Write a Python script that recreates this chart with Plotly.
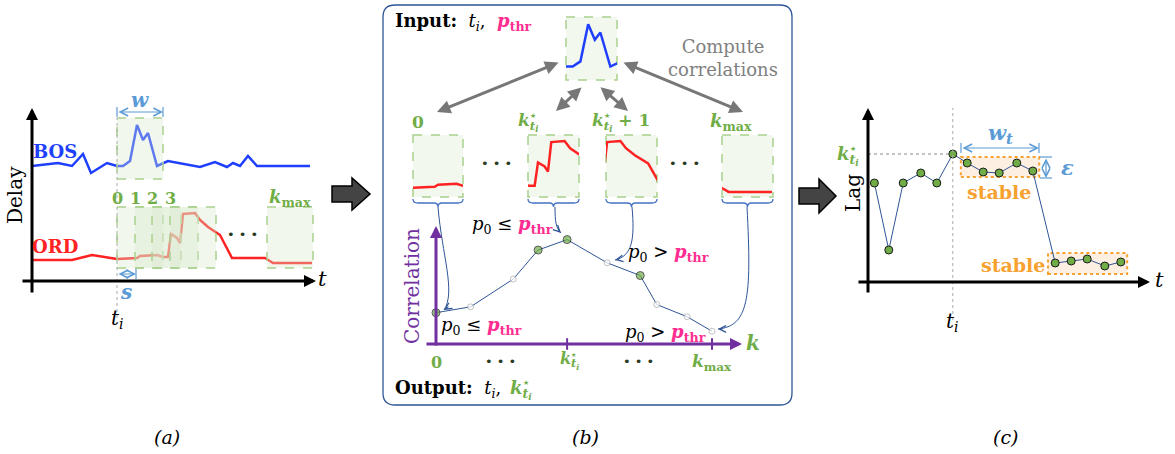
import plotly.graph_objects as go

W, H = 1175, 454
FONT = "DejaVu Serif"

# ---------------- data ----------------
# (a) delay series
bos_t = [0, 2.6, 4.0, 5.1, 5.9, 7.5, 8.5, 9.1, 9.8, 10.5, 11.1, 11.6, 12.5, 13.1, 13.6,
         16.8, 18.3, 19.5, 20.1, 20.8, 21.6, 22.5, 27.8]
bos_delay = [11.5, 11.8, 11.5, 12.7, 10.8, 11.8, 11.5, 11.5, 12.0, 15.6, 14.1, 14.8, 11.5, 11.8, 12.0,
             11.4, 11.9, 11.4, 11.8, 11.5, 12.5, 11.5, 11.5]
ord_t = [0, 4.0, 6.0, 8.5, 10.5, 10.8, 12.5, 13.1, 13.6, 13.9, 14.5, 14.8, 15.1, 16.3, 16.8,
         17.6, 18.8, 20.0, 23.3, 24.1, 28.0]
ord_delay = [2.1, 2.1, 2.6, 2.2, 2.3, 2.5, 2.6, 2.4, 2.4, 4.7, 4.3, 3.8, 6.7, 6.8, 6.1,
             5.4, 4.6, 2.3, 2.3, 1.8, 1.8]
t_i_a = 8.5
w_len = 4.6
window_starts = [8.5, 10.3, 12.0, 13.8]
window_labels = ["0", "1", "2", "3"]
kmax_start = 23.5
bos_win_y = [10.2, 16.3]
ord_win_y = [1.3, 7.4]

# (b) correlation vs lag
corr_k = [0, 1.25, 2.8, 3.7, 4.75, 6.2, 7.4, 8.0, 9.1, 10.0]
corr_val = [0.27, 0.32, 0.56, 0.81, 0.90, 0.70, 0.59, 0.34, 0.235, 0.11]
corr_sig = [True, False, False, True, True, False, True, False, False, False]
k_star = 4.75
k_max = 10.0
mini_windows = [8.5, 13.0, 15.0, 23.5]       # ORD window starts shown in (b): 0, k*, k*+1, kmax

# (c) lag over time
lag_t = [0.4, 1.3, 2.2, 3.3, 4.3, 5.3, 6.2, 7.2, 8.2, 9.3, 10.3, 11.7, 12.7, 13.7, 14.8, 15.8]
lag_val = [9.9, 3.2, 9.9, 10.9, 9.9, 12.8, 11.9, 11.0, 10.9, 11.9, 11.1, 1.9, 2.1, 2.3, 1.6, 2.0]
t_i_c = 5.3
stable_boxes = [(5.8, 10.7, 10.5, 12.5), (11.25, 16.2, 0.8, 2.9)]

# ---------------- colours ----------------
BLUE = "#1F3FFF"
RED = "#FF2222"
GREEN = "#70AD47"
LBLUE = "#5B9BD5"
PINK = "#FF2D8F"
PURPLE = "#7030A0"
ORANGE = "#F7A130"
GBORDER = "#A9D18E"
GFILL = "rgba(226,239,218,0.45)"
NAVY = "#2F5597"

fig = go.Figure()


def ov(ox, oy, sx, sy):
    return [(0 - ox) / sx, (W - ox) / sx], [(oy - H) / sy, oy / sy]


def dom(x0, x1, y0, y1):
    return [x0 / W, x1 / W], [1 - y1 / H, 1 - y0 / H]


axes = {}


def add_axes(n, xr, yr, xd=(0, 1), yd=(0, 1)):
    xs = "xaxis" if n == 1 else f"xaxis{n}"
    ys = "yaxis" if n == 1 else f"yaxis{n}"
    tag = "" if n == 1 else str(n)
    axes[xs] = dict(visible=False, range=xr, domain=list(xd), anchor="y" + tag, fixedrange=True)
    axes[ys] = dict(visible=False, range=yr, domain=list(yd), anchor="x" + tag, fixedrange=True)


add_axes(1, [0, W], [H, 0])                       # canvas (pixels)
xr, yr = ov(32, 281, 10, 10); add_axes(2, xr, yr)  # panel a
xr, yr = ov(436, 344, 27.6, 116); add_axes(3, xr, yr)  # panel b
xr, yr = ov(868, 282, 16, 10); add_axes(4, xr, yr)  # panel c
xd, yd = dom(566, 617, 17, 80)
add_axes(5, [8.5, 8.5 + w_len], bos_win_y, xd, yd)
mini_boxes = [(413, 463), (528, 579), (606, 657), (722, 773)]
for i, ((x0, x1), ws) in enumerate(zip(mini_boxes, mini_windows)):
    xd, yd = dom(x0, x1, 135, 197)
    add_axes(6 + i, [ws, ws + w_len], ord_win_y, xd, yd)

fig.add_trace(go.Scatter(x=[0], y=[0], mode="markers", marker=dict(opacity=0), xaxis="x", yaxis="y",
                         hoverinfo="skip"))

# ---------------- traces ----------------
fig.add_trace(go.Scatter(x=bos_t, y=bos_delay, mode="lines", line=dict(color=BLUE, width=2.5),
                         xaxis="x2", yaxis="y2"))
fig.add_trace(go.Scatter(x=ord_t, y=ord_delay, mode="lines", line=dict(color=RED, width=2.5),
                         xaxis="x2", yaxis="y2"))
fig.add_trace(go.Scatter(x=bos_t, y=bos_delay, mode="lines", line=dict(color=BLUE, width=2.5),
                         xaxis="x5", yaxis="y5"))
for i in range(4):
    fig.add_trace(go.Scatter(x=ord_t, y=ord_delay, mode="lines", line=dict(color=RED, width=2.5),
                             xaxis=f"x{6+i}", yaxis=f"y{6+i}"))

fig.add_trace(go.Scatter(x=corr_k, y=corr_val, mode="lines+markers",
                         line=dict(color=NAVY, width=1),
                         marker=dict(size=[8 if s else 6 for s in corr_sig],
                                     color=[GREEN if s else "white" for s in corr_sig],
                                     line=dict(color=["#1a1a1a" if s else "#AAAAAA" for s in corr_sig], width=1)),
                         xaxis="x3", yaxis="y3"))
fig.add_trace(go.Scatter(x=lag_t, y=lag_val, mode="lines+markers",
                         line=dict(color=NAVY, width=1),
                         marker=dict(size=8, color=GREEN, line=dict(color="#1a1a1a", width=1)),
                         xaxis="x4", yaxis="y4"))

shapes = []
ann = []


def text(x, y, t, size=16, color="black", xanchor="center", yanchor="middle", angle=0, ref="",
         family=FONT):
    ann.append(dict(x=x, y=y, xref="x" + ref, yref="y" + ref, text=t, showarrow=False,
                    font=dict(family=family, size=size, color=color), xanchor=xanchor, yanchor=yanchor,
                    textangle=angle))


def arrow(x0, y0, x1, y1, color="black", width=3, head=2, size=0.8, both=False):
    d = dict(x=x1, y=y1, ax=x0, ay=y0, xref="x", yref="y", axref="x", ayref="y", text="",
             showarrow=True, arrowhead=head, arrowsize=size, arrowwidth=width, arrowcolor=color,
             standoff=0, startstandoff=0)
    if both:
        d.update(arrowside="end+start", startarrowhead=head, startarrowsize=size)
    ann.append(d)


def line(x0, y0, x1, y1, color, width=1, dash="solid", ref="", layer="above"):
    shapes.append(dict(type="line", x0=x0, y0=y0, x1=x1, y1=y1, xref="x" + ref, yref="y" + ref,
                       line=dict(color=color, width=width, dash=dash), layer=layer))


def rect(x0, y0, x1, y1, lc, fill, dash="dash", width=1.5, ref="", layer="below"):
    shapes.append(dict(type="rect", x0=x0, y0=y0, x1=x1, y1=y1, xref="x" + ref, yref="y" + ref,
                       line=dict(color=lc, width=width, dash=dash), fillcolor=fill, layer=layer))


def path(p, color, width=1.2, fill=None, layer="above"):
    d = dict(type="path", path=p, xref="x", yref="y", line=dict(color=color, width=width), layer=layer)
    if fill:
        d["fillcolor"] = fill
    shapes.append(d)


def kstar(x, y, size, color=GREEN, suffix=""):
    t = f"<b><i>k</i></b><sub><b><i>t<sub>i</sub></i></b></sub>{suffix}"
    text(x, y, t, size=size, color=color, xanchor="left")
    text(x + 0.98 * size, y - 0.36 * size, "★", size=max(6, int(size * 0.42)), color=color,
         family="DejaVu Sans")


def dots(x, y):
    text(x, y, "• • •", 13, "#2a3a20", family="DejaVu Sans")


def pthr():
    return f"<span style='color:{PINK}'><b><i>p</i><sub>thr</sub></b></span>"


# ---------------- panel (a) ----------------
for ws in window_starts:
    rect(ws, ord_win_y[0], ws + w_len, ord_win_y[1], GBORDER, "rgba(215,233,203,0.35)", ref="2", layer="above")
rect(t_i_a, bos_win_y[0], t_i_a + w_len, bos_win_y[1], GBORDER, "rgba(215,233,203,0.35)", ref="2", layer="above")
rect(kmax_start, ord_win_y[0], kmax_start + w_len, ord_win_y[1], GBORDER, "rgba(215,233,203,0.35)", ref="2", layer="above")
line(t_i_a, -3.7, t_i_a, bos_win_y[1], "#AAAAAA", 1, "dot", ref="2")
arrow(21, 281, 316, 281)
arrow(32, 294, 32, 108)
text(15, 195, "Delay", 20, angle=-90)
text(55, 151, "<b>BOS</b>", 18, BLUE)
text(55, 246, "<b>ORD</b>", 18, RED)
text(322, 279, "<i>t</i>", 21)
text(117, 319, "<i>t<sub>i</sub></i>", 20)
for ws, lab in zip(window_starts, window_labels):
    text(ws, 8.3, f"<b>{lab}</b>", 16, GREEN, ref="2")
text(kmax_start + w_len / 2, 8.3, "<b><i>k</i><sub>max</sub></b>", 18, GREEN, ref="2")
dots(242, 234)
# w and s arrows
arrow(117, 112, 163, 112, LBLUE, 1.2, 5, 1.3, True)
line(117, 107, 117, 117, LBLUE, 1.2)
line(163, 107, 163, 117, LBLUE, 1.2)
text(140, 100, "<b><i>w</i></b>", 20, LBLUE)
arrow(117, 274, 136, 274, LBLUE, 1.2, 5, 1.3, True)
line(136, 269, 136, 279, LBLUE, 1.2)
text(126, 292, "<b><i>s</i></b>", 20, LBLUE)

# big arrows
path("M 332,186 L 352,186 L 352,178 L 370,194 L 352,210 L 352,202 L 332,202 Z", "black", 1.5, "#444444")
path("M 799,188 L 819,188 L 819,179 L 836,196 L 819,213 L 819,204 L 799,204 Z", "black", 1.5, "#444444")

# ---------------- panel (b) ----------------
r = 12
x0, y0, x1, y1 = 383, 5, 792, 405
path(f"M {x0+r},{y0} L {x1-r},{y0} Q {x1},{y0} {x1},{y0+r} L {x1},{y1-r} Q {x1},{y1} {x1-r},{y1} "
     f"L {x0+r},{y1} Q {x0},{y1} {x0},{y1-r} L {x0},{y0+r} Q {x0},{y0} {x0+r},{y0} Z", NAVY, 1.3, layer="below")
text(393, 22, "<b>Input:</b>  <i>t<sub>i</sub></i>,  " + pthr(), 18, xanchor="left")
text(393, 389, "<b>Output:</b>  <i>t<sub>i</sub></i>,", 18, xanchor="left")
kstar(508, 389, 18)
text(723, 58, "Compute<br>correlations", 18, "#808080")
rect(566, 17, 617, 80, GBORDER, GFILL)
for (bx0, bx1) in mini_boxes:
    rect(bx0, 135, bx1, 197, GBORDER, GFILL)
    m = (bx0 + bx1) / 2
    path(f"M {bx0},199 Q {bx0},203 {bx0+5},203 L {m-4},203 Q {m},203 {m},207 "
         f"Q {m},203 {m+4},203 L {bx1-5},203 Q {bx1},203 {bx1},199", "#4472C4", 1.3)
text(410, 122, "<b>0</b>", 17, GREEN, xanchor="left")
kstar(516, 122, 17)
kstar(590, 122, 17, suffix="<b> + 1</b>")
text(708, 122, "<b><i>k</i><sub>max</sub></b>", 18, GREEN, xanchor="left")
dots(496, 163)
dots(684, 163)
# gray correlation arrows
arrow(560, 62, 437, 112, "#777777", 3, 2, 0.9, True)
arrow(583, 86, 556, 111, "#777777", 3, 2, 0.9, True)
arrow(599, 86, 628, 111, "#777777", 3, 2, 0.9, True)
arrow(622, 62, 743, 112, "#777777", 3, 2, 0.9, True)
# blue curved arrows from braces
curves = [("M 438,207 C 442,255 456,292 444,310", 444, 310, 6, -4),
          ("M 555,207 C 555,222 556,228 561,233", 561, 233, -4, -4),
          ("M 632,207 C 635,240 632,256 615,260", 615, 260, 5, -1),
          ("M 747,207 C 752,300 748,326 718,329", 718, 329, 6, 0)]
for p, ex, ey, dx, dy in curves:
    path(p, NAVY, 1)
    ann.append(dict(x=ex, y=ey, ax=dx, ay=dy, xref="x", yref="y", text="", showarrow=True,
                    arrowhead=5, arrowsize=1.3, arrowwidth=1, arrowcolor=NAVY, standoff=0))
# correlation axes
arrow(436, 347, 436, 226, PURPLE, 3)
arrow(425, 344, 742, 344, PURPLE, 3)
line(k_star, -0.05, k_star, 0.05, PURPLE, 2, ref="3")
line(k_max, -0.05, k_max, 0.05, PURPLE, 2, ref="3")
text(412, 286, "Correlation", 20, PURPLE, angle=-90)
text(753, 343, "<b><i>k</i></b>", 20, GREEN)
text(436, 362, "<b>0</b>", 16, GREEN)
dots(500, 361)
dots(638, 361)
kstar(558, 360, 16)
text(712, 362, "<b><i>k</i><sub>max</sub></b>", 17, GREEN)
text(512, 225, "<i>p</i><sub>0</sub> ≤ " + pthr(), 18)
text(481, 326, "<i>p</i><sub>0</sub> ≤ " + pthr(), 18)
text(668, 253, "<i>p</i><sub>0</sub> > " + pthr(), 18)
text(665, 333, "<i>p</i><sub>0</sub> > " + pthr(), 18)

# ---------------- panel (c) ----------------
for (a0, a1, b0, b1) in stable_boxes:
    rect(a0, b0, a1, b1, ORANGE, "#FDEFE1", dash="dot", width=2, ref="4")
arrow(868, 294, 868, 108)
arrow(857, 282, 1150, 282)
text(1159, 280, "<i>t</i>", 21)
text(853, 193, "Lag", 20, angle=-90)
line(t_i_c, -3.8, t_i_c, 17.4, "#AAAAAA", 1, "dot", ref="4")
line(0, lag_val[5], t_i_c, lag_val[5], "#888888", 1, "dot", ref="4")
text(952, 322, "<i>t<sub>i</sub></i>", 20)
kstar(835, 155, 18)
text(999, 192, "<b>stable</b>", 19, ORANGE)
text(1013, 265, "<b>stable</b>", 19, ORANGE)
arrow(961, 148, 1039, 148, LBLUE, 1.2, 5, 1.3, True)
line(961, 143, 961, 153, LBLUE, 1.2)
line(1039, 143, 1039, 153, LBLUE, 1.2)
text(1000, 133, "<b><i>w<sub>t</sub></i></b>", 21, LBLUE)
arrow(1046, 157, 1046, 178, LBLUE, 1.2, 5, 1.3, True)
line(1040, 157, 1052, 157, LBLUE, 1.2)
line(1040, 178, 1052, 178, LBLUE, 1.2)
text(1067, 167, "<b><i>ε</i></b>", 21, LBLUE)

# captions
text(167, 437, "<i>(a)</i>", 19)
text(585, 437, "<i>(b)</i>", 19)
text(1005, 437, "<i>(c)</i>", 19)

fig.update_layout(width=W, height=H, margin=dict(l=0, r=0, t=0, b=0), showlegend=False,
                  paper_bgcolor="white", plot_bgcolor="rgba(0,0,0,0)", shapes=shapes, annotations=ann,
                  **axes)
fig.write_html("out.html")
